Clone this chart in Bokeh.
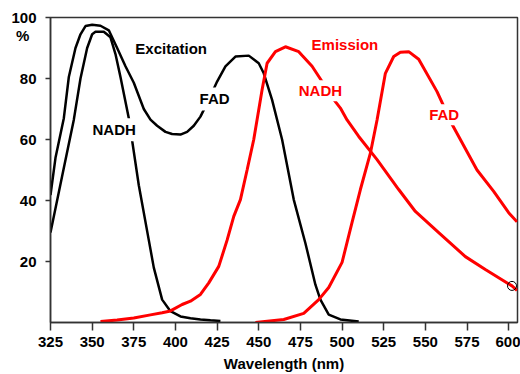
from bokeh.plotting import figure
from bokeh.models import Range1d, Label, FixedTicker, LinearAxis
from bokeh.embed import file_html
from bokeh.resources import INLINE

# ---- data ----
nadh_ex_x = [325, 332, 339, 343, 347, 350, 352, 357, 361, 364, 367, 372, 378, 384, 387, 392, 397, 403, 409, 415, 421, 427]
nadh_ex_y = [29.5, 48, 66.5, 80, 90, 94.5, 95.3, 95.3, 93.5, 88, 80.5, 67, 45, 27, 18, 7.5, 3.7, 2, 1.4, 1, 0.7, 0.5]

fad_ex_x = [325, 328, 333, 336, 340, 343, 346, 350, 355, 360, 365, 370, 375, 381, 385, 389, 394, 398, 403, 407, 411, 415,
            420, 425, 430, 436, 444, 450, 453, 458, 464, 471, 478, 484, 487, 492, 499, 510]
fad_ex_y = [41.8, 54, 67, 80.5, 90, 94.5, 97.2, 97.6, 97.3, 95.8, 90, 84, 78.6, 70, 66.5, 64.5, 62.5, 61.8, 61.6, 62.5, 64.5, 67.5,
            73, 79, 84, 87.2, 87.5, 85, 81.7, 73, 60, 40.3, 26, 12.4, 7.5, 2.6, 1, 0.3]

nadh_em_x = [355, 365, 375, 385, 392, 397, 404, 409, 415, 420, 426, 431, 435, 439, 443, 447, 452, 455, 460, 466, 474, 482,
             488, 494, 499, 503, 510, 521, 534, 544, 558, 574, 586, 602, 605]
nadh_em_y = [0.3, 0.8, 1.5, 2.5, 3.2, 3.8, 5.9, 7, 9.2, 13, 18.4, 27, 34.8, 40.3, 50, 60, 76.3, 85, 88.8, 90.4, 88.8, 84,
             79, 73.8, 70.3, 66.4, 61, 53.4, 43.6, 36.4, 29.5, 21.6, 17.4, 12, 10.5]
marked_index = 33  # open circle on the NADH emission curve

fad_em_x = [448, 465, 477, 486, 492, 500, 506, 511, 517, 521, 526, 531, 535, 540, 546, 557, 566, 581, 591, 600, 605]
fad_em_y = [0, 1, 3, 7.5, 11.5, 19.7, 32.8, 43.6, 55.5, 66.4, 81.7, 87.2, 88.6, 88.8, 86.3, 75.7, 65, 50, 43, 36, 33]

x_ticks = [325, 350, 375, 400, 425, 450, 475, 500, 525, 550, 575, 600]
y_ticks = [20, 40, 60, 80, 100]
unit_text = "%"
unit_pos = 94  # the "%" sits just under the 100 label

# annotation texts: (text, x, y, colour)
labels = [
    ("Excitation", 397.4, 90.0, "black"),
    ("NADH", 363.2, 63.2, "black"),
    ("FAD", 423.5, 73.3, "black"),
    ("Emission", 501.7, 91.3, "red"),
    ("NADH", 487.0, 76.0, "red"),
    ("FAD", 561.3, 68.1, "red"),
]

FONT = "Liberation Sans"

p = figure(width=520, height=374, x_range=Range1d(325, 605.3), y_range=Range1d(0, 100),
           output_backend="svg", toolbar_location=None,
           min_border_left=50, min_border_right=3, min_border_top=17, min_border_bottom=51)

p.grid.visible = False
p.background_fill_color = "white"
p.border_fill_color = "white"
p.outline_line_color = "#333333"
p.outline_line_width = 1.5

for ax in (p.xaxis, p.yaxis):
    ax.axis_line_color = "#333333"
    ax.axis_line_width = 1.5
    ax.major_tick_line_color = "#333333"
    ax.major_tick_line_width = 1.5
    ax.minor_tick_line_color = None
    ax.major_tick_in = 0
    ax.major_label_text_font = FONT
    ax.major_label_text_font_style = "bold"
    ax.major_label_text_font_size = "15px"
    ax.major_label_text_color = "black"

p.xaxis.ticker = FixedTicker(ticks=x_ticks)
p.xaxis.major_tick_out = 8
p.xaxis.major_label_standoff = 6
p.xaxis.axis_label = "Wavelength (nm)"
p.xaxis.axis_label_text_font = FONT
p.xaxis.axis_label_text_font_style = "bold"
p.xaxis.axis_label_text_font_size = "15px"
p.xaxis.axis_label_text_color = "black"
p.xaxis.axis_label_standoff = 5

# inner y axis: line and tick marks only
p.yaxis.ticker = FixedTicker(ticks=y_ticks)
p.yaxis.major_tick_out = 5
p.yaxis.major_label_standoff = 0
p.yaxis.major_label_overrides = {t: "" for t in y_ticks}

# outer y axis: the tick labels plus the "%" unit
label_axis = LinearAxis(ticker=FixedTicker(ticks=y_ticks + [unit_pos]),
                        major_label_overrides={unit_pos: unit_text + "\u00a0\u2009"},
                        axis_line_color=None, major_tick_line_color=None,
                        minor_tick_line_color=None, major_tick_in=0, major_tick_out=0,
                        major_label_standoff=9, major_label_text_font=FONT,
                        major_label_text_font_style="bold", major_label_text_font_size="15px",
                        major_label_text_color="black")
p.add_layout(label_axis, "left")

p.line(nadh_ex_x, nadh_ex_y, line_color="black", line_width=2.5)
p.line(fad_ex_x, fad_ex_y, line_color="black", line_width=2.5)
p.line(nadh_em_x, nadh_em_y, line_color="red", line_width=3)
p.line(fad_em_x, fad_em_y, line_color="red", line_width=3)
p.scatter([nadh_em_x[marked_index]], [nadh_em_y[marked_index]], size=9,
          fill_color=None, line_color="black", line_width=1)

for text, x, y, col in labels:
    pad = 3 if col == "black" else (8, 2)
    p.add_layout(Label(x=x, y=y, text=text, text_color=col, text_font=FONT,
                       text_font_style="bold", text_font_size="15px",
                       text_align="center", text_baseline="alphabetic",
                       background_fill_color="white", padding=pad))

open("out.html", "w").write(file_html(p, INLINE))
